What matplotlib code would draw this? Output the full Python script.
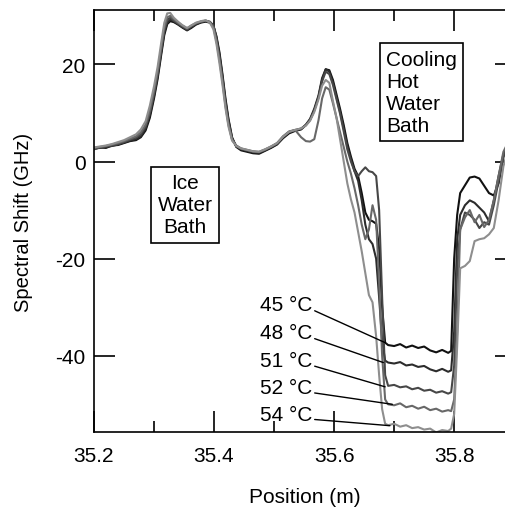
import matplotlib
matplotlib.use("Agg")
import matplotlib.pyplot as plt
import numpy as np
from matplotlib.ticker import MultipleLocator

plt.rcParams['font.family'] = ['Liberation Sans', 'DejaVu Sans']

# ---- data -------------------------------------------------------------
position = [
    35.200, 35.210, 35.220, 35.230, 35.240, 35.250, 35.260, 35.270, 35.278, 35.286,
    35.293, 35.300, 35.306, 35.312, 35.317, 35.322, 35.327, 35.333, 35.340, 35.347,
    35.355, 35.362, 35.370, 35.378, 35.386, 35.393, 35.399, 35.404, 35.409, 35.414,
    35.419, 35.424, 35.430, 35.437, 35.445, 35.455, 35.465, 35.475, 35.485, 35.495,
    35.505, 35.515, 35.525, 35.535, 35.545, 35.553, 35.560, 35.567, 35.574, 35.580,
    35.586, 35.592, 35.598, 35.604, 35.610, 35.616, 35.622, 35.628, 35.634, 35.640,
    35.646, 35.652, 35.658, 35.664, 35.670, 35.675, 35.680, 35.685, 35.690,
    35.700, 35.710, 35.720, 35.730, 35.740, 35.750, 35.760, 35.770, 35.780, 35.790,
    35.795, 35.800, 35.805, 35.810, 35.818, 35.826, 35.834, 35.842, 35.850, 35.858,
    35.866, 35.874, 35.882, 35.890,
]

shift_45 = [
    2.6, 2.9, 2.8, 3.3, 3.4, 3.8, 4.2, 4.4, 5.0, 6.4,
    9.0, 13.0, 17.0, 22.0, 26.0, 28.3, 28.9, 28.7, 28.2, 27.6,
    27.0, 27.5, 28.2, 28.6, 28.8, 28.6, 27.9, 25.8, 22.5, 18.0,
    13.0, 8.8, 5.0, 3.0, 2.3, 2.0, 1.7, 1.6, 2.2, 2.8,
    3.5, 4.8, 5.8, 6.3, 6.6, 7.5, 8.6, 10.6, 13.3, 16.8,
    19.0, 18.8, 16.8, 13.8, 10.8, 7.5, 3.8, 1.0, -1.5, -3.0,
    -6.5, -10.5, -12.0, -12.3, -12.8, -18.0, -30.0, -37.3, -37.8,
    -38.0, -37.6, -38.3, -37.9, -38.4, -38.1, -38.9, -39.3, -38.8, -39.4,
    -39.0, -20.0, -11.0, -6.5, -4.9, -3.3, -3.1, -3.5, -5.0, -6.5,
    -7.0, -4.5, 1.0, 3.0,
]

shift_48 = [
    2.7, 2.8, 3.0, 3.2, 3.5, 3.9, 4.3, 4.6, 5.2, 6.8,
    9.5, 13.5, 17.5, 22.5, 26.5, 28.6, 29.2, 28.9, 28.3, 27.7,
    27.1, 27.7, 28.3, 28.7, 28.9, 28.7, 28.0, 25.5, 22.0, 17.5,
    12.5, 8.5, 4.8, 3.1, 2.5, 2.2, 1.9, 1.8, 2.3, 2.9,
    3.6, 5.0, 6.0, 6.4, 6.7, 7.6, 8.8, 10.9, 13.6, 17.2,
    19.0, 18.5, 16.3, 13.2, 10.2, 6.8, 3.2, 0.5, -2.0, -4.0,
    -8.0, -13.0, -16.0, -17.0, -20.0, -28.0, -37.0, -41.0, -41.4,
    -41.6, -41.3, -42.0, -41.8, -42.3, -42.1, -42.8, -43.2, -42.7, -43.3,
    -43.0, -35.0, -16.0, -11.0, -9.0, -8.0, -8.5, -9.5, -10.5, -12.3,
    -8.0, -3.0, 1.5, 3.5,
]

shift_51 = [
    2.5, 2.9, 3.1, 3.3, 3.6, 4.0, 4.5, 4.9, 5.6, 7.2,
    10.0, 14.0, 18.0, 23.0, 27.0, 29.2, 29.6, 29.0, 28.4, 27.8,
    27.2, 27.8, 28.4, 28.8, 29.0, 28.8, 28.0, 25.2, 21.5, 17.0,
    12.0, 8.0, 4.6, 3.2, 2.6, 2.3, 2.0, 1.9, 2.4, 3.0,
    3.7, 5.1, 6.1, 6.5, 6.8, 7.5, 8.6, 10.5, 13.2, 16.5,
    18.5, 18.0, 15.8, 12.8, 9.8, 6.2, 2.5, 0.0, -2.0, -3.0,
    -2.0, -1.2, -2.0, -2.2, -3.0, -10.0, -28.0, -44.0, -46.2,
    -46.0, -46.5, -46.3, -46.9, -46.6, -47.2, -47.0, -47.6, -47.3, -47.8,
    -47.5, -42.0, -22.0, -14.0, -10.5, -11.0, -12.0, -13.7, -12.5, -13.0,
    -9.0, -4.0, 1.0, 3.5,
]

shift_52 = [
    2.8, 3.0, 3.2, 3.5, 3.8, 4.2, 4.7, 5.2, 6.0, 7.6,
    10.5, 14.5, 18.5, 23.5, 27.5, 29.7, 30.0, 29.3, 28.6, 28.0,
    27.4, 28.0, 28.5, 28.8, 29.0, 28.7, 27.6, 24.8, 21.0, 16.5,
    11.5, 7.6, 4.5, 3.3, 2.7, 2.4, 2.1, 2.0, 2.5, 3.1,
    3.8, 5.2, 6.2, 6.5, 5.0, 4.2, 4.1, 4.6, 8.5, 13.0,
    15.3, 14.8, 12.0, 9.0, 6.0, 3.0, 0.0, -2.5, -5.5, -9.0,
    -13.0, -16.0, -14.0, -9.0, -12.0, -25.0, -40.0, -49.0, -50.0,
    -50.2, -49.8, -50.6, -50.3, -50.9, -50.5, -51.2, -50.9, -51.5, -51.2,
    -51.4, -49.0, -35.0, -14.0, -11.5, -10.0, -12.5, -11.0, -13.5, -12.0,
    -8.0, -3.0, 2.0, 4.0,
]

shift_54 = [
    2.9, 3.1, 3.3, 3.6, 4.0, 4.4, 5.0, 5.6, 6.6, 8.3,
    11.5, 15.5, 19.5, 24.5, 28.5, 30.5, 30.6, 29.6, 28.8, 28.1,
    27.5, 28.0, 28.6, 28.9, 29.1, 28.6, 27.2, 24.2, 20.2, 15.8,
    11.0, 7.2, 4.3, 3.2, 2.7, 2.4, 2.1, 2.0, 2.5, 3.1,
    3.8, 5.1, 6.1, 6.5, 6.8, 7.4, 8.4, 10.2, 12.8, 15.6,
    16.8, 16.2, 12.5, 9.0, 4.5, 0.0, -4.5, -7.8, -10.5, -14.5,
    -18.5, -23.0, -27.5, -29.0, -36.0, -44.0, -51.0, -54.0, -54.3,
    -54.0, -54.6, -54.3, -54.9, -54.7, -55.2, -55.0, -55.8, -55.3, -55.5,
    -55.0, -52.0, -38.0, -22.0, -21.5, -20.5, -16.4, -16.0, -15.8, -15.0,
    -13.7, -8.0, -1.0, 2.5,
]

series = [shift_45, shift_48, shift_51, shift_52, shift_54]
temp_labels = ["45 °C", "48 °C", "51 °C", "52 °C", "54 °C"]
line_colors = ["#111111", "#2c2c2c", "#474747", "#686868", "#8e8e8e"]

# annotation placement (data coords)
label_x = 35.563
label_y = [-29.5, -35.3, -41.0, -46.6, -52.1]
leader_end_x = [35.685, 35.682, 35.685, 35.697, 35.693]
leader_end_y = [-37.3, -41.4, -46.4, -50.0, -54.4]

x_ticks = [35.2, 35.4, 35.6, 35.8]
y_ticks = [-40, -20, 0, 20]

# ---- figure -----------------------------------------------------------
fig = plt.figure(figsize=(5.05, 5.10), dpi=100)
ax = fig.add_axes([94 / 505, 1 - 433 / 510, (516 - 94) / 505, (433 - 11) / 510])

for ys, c in zip(series, line_colors):
    ax.plot(position, ys, color=c, lw=1.5, solid_joinstyle='round')

ax.set_xlim(35.2, 35.903)
ax.set_ylim(-55.7, 31.2)

ax.set_xticks(x_ticks)
ax.set_xticklabels([f"{v:.1f}" for v in x_ticks])
ax.xaxis.set_minor_locator(MultipleLocator(0.1))
ax.set_yticks(y_ticks)
ax.set_yticklabels([str(v) for v in y_ticks])

ax.tick_params(axis='both', which='major', direction='in', length=15, width=1.2,
               top=True, right=True, labelsize=15, colors='black')
ax.tick_params(axis='x', which='minor', direction='in', length=8, width=1.2,
               top=True, bottom=True)
ax.tick_params(axis='x', which='major', pad=10)
ax.tick_params(axis='y', which='major', pad=6)

for s in ax.spines.values():
    s.set_linewidth(1.2)
    s.set_color('black')

ax.set_xlabel("Position (m)", fontsize=15, labelpad=16)
ax.set_ylabel("Spectral Shift (GHz)", fontsize=14.5, labelpad=16)

ax.text(35.352, -8.95, "Ice\nWater\nBath", fontsize=15, ha='center', va='center',
        multialignment='center', linespacing=1.2,
        bbox=dict(boxstyle='square,pad=0.3', fc='white', ec='black', lw=1.2))
ax.text(35.6867, 14.3, "Cooling\nHot\nWater\nBath", fontsize=15, ha='left', va='center',
        multialignment='left', linespacing=1.2,
        bbox=dict(boxstyle='square,pad=0.3', fc='white', ec='black', lw=1.2))

for txt, ly, ex, ey in zip(temp_labels, label_y, leader_end_x, leader_end_y):
    ax.annotate(txt, xy=(ex, ey), xytext=(label_x, ly), textcoords='data',
                fontsize=15, ha='right', va='center',
                arrowprops=dict(arrowstyle='-', color='black', lw=1.0,
                                shrinkA=0, shrinkB=0, relpos=(1.0, 0.25)))

fig.savefig("out.png", dpi=100)
